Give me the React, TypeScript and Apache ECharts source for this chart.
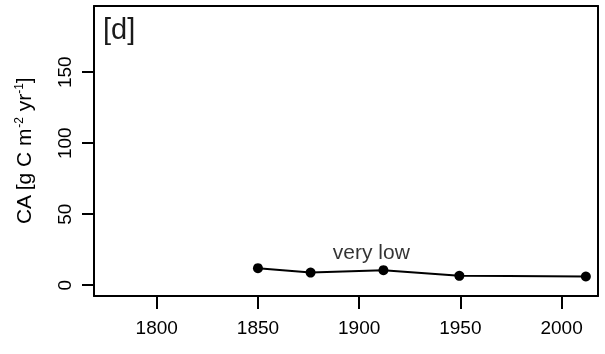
import React, { useEffect, useRef } from "react";
import * as echarts from "echarts";

// Sampling years and CA values (g C m^-2 yr^-1)
const years = [1850, 1876, 1912, 1949.5, 2012];
const caValues = [12, 8.9, 10.6, 6.6, 6.1];

const xTicks = [1800, 1850, 1900, 1950, 2000];
const yTicks = [0, 50, 100, 150];

const panelLabel = "[d]";
const yTitle = "{main|CA [g C m}{sup|-2}{main| yr}{sup|-1}{main|]}";
const noteText = "very low";
const notePos = [1906, 24];

const X_MIN = 1769;
const X_MAX = 2018;
const Y_MIN = -7.6;
const Y_MAX = 196.6;

const FONT = "'Liberation Sans', Arial, Helvetica, sans-serif";

export default function App() {
  const ref = useRef<HTMLDivElement>(null);

  useEffect(() => {
    if (!ref.current) return;
    const chart = echarts.init(ref.current, undefined, { renderer: "svg" });
    const points = years.map((y, i) => [y, caValues[i]]);
    const frameLine = { show: true, onZero: false, lineStyle: { color: "#000", width: 2 } };

    chart.setOption({
      animation: false,
      title: {
        text: panelLabel,
        left: 103,
        top: 14,
        padding: 0,
        textStyle: {
          fontSize: 29,
          fontWeight: "normal",
          color: "#1a1a1a",
          fontFamily: FONT,
        },
      },
      grid: { left: 94, right: 7, top: 6, bottom: 58 },
      xAxis: [
        {
          type: "value",
          min: X_MIN,
          max: X_MAX,
          axisLine: frameLine,
          splitLine: { show: false },
          axisTick: {
            show: true,
            customValues: xTicks,
            length: 13,
            lineStyle: { color: "#000", width: 2 },
          },
          axisLabel: {
            showMinLabel: false,
            showMaxLabel: false,
            formatter: (v: number) => (xTicks.includes(v) ? String(v) : ""),
            margin: 22,
            fontSize: 19,
            color: "#000",
            fontFamily: FONT,
          },
        },
        {
          // top edge of the plot frame
          type: "value",
          position: "top",
          min: X_MIN,
          max: X_MAX,
          axisLine: frameLine,
          axisTick: { show: false },
          axisLabel: { show: false },
          splitLine: { show: false },
        },
      ],
      yAxis: [
        {
          type: "value",
          min: Y_MIN,
          max: Y_MAX,
          name: yTitle,
          nameLocation: "middle",
          nameRotate: 90,
          nameGap: 60,
          nameTextStyle: {
            fontSize: 21,
            color: "#000",
            fontFamily: FONT,
            rich: {
              main: { fontSize: 21, color: "#000", fontFamily: FONT },
              sup: {
                fontSize: 12,
                color: "#000",
                fontFamily: FONT,
                verticalAlign: "top",
                padding: [0, 0, 9, 0],
              },
            },
          },
          axisLine: frameLine,
          splitLine: { show: false },
          axisTick: {
            show: true,
            customValues: yTicks,
            length: 12,
            lineStyle: { color: "#000", width: 2 },
          },
          axisLabel: {
            showMinLabel: false,
            showMaxLabel: false,
            formatter: (v: number) => (yTicks.includes(v) ? String(v) : ""),
            rotate: 90,
            margin: 20,
            fontSize: 19,
            color: "#000",
            fontFamily: FONT,
          },
        },
        {
          // right edge of the plot frame
          type: "value",
          position: "right",
          min: Y_MIN,
          max: Y_MAX,
          axisLine: frameLine,
          axisTick: { show: false },
          axisLabel: { show: false },
          splitLine: { show: false },
        },
      ],
      series: [
        {
          type: "line",
          data: points,
          symbol: "circle",
          symbolSize: 10,
          lineStyle: { color: "#000", width: 2 },
          itemStyle: { color: "#000" },
        },
        {
          type: "scatter",
          data: [notePos],
          symbolSize: 0,
          silent: true,
          itemStyle: { color: "transparent" },
          label: {
            show: true,
            position: "inside",
            formatter: noteText,
            fontSize: 21,
            color: "#000",
            fontFamily: FONT,
          },
        },
      ],
    });

    return () => chart.dispose();
  }, []);

  return (
    <div
      ref={ref}
      style={{ position: "fixed", left: 0, top: 0, width: 605, height: 354 }}
    />
  );
}
